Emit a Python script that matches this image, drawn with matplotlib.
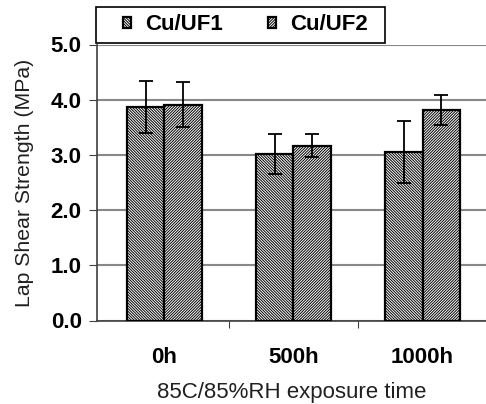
import matplotlib
matplotlib.use('Agg')
import matplotlib.pyplot as plt
from matplotlib.patches import Rectangle
import numpy as np

# data
categories = ['0h', '500h', '1000h']
series = ['Cu/UF1', 'Cu/UF2']
uf1_mean = [3.87, 3.02, 3.05]
uf1_err = [0.47, 0.36, 0.56]
uf2_mean = [3.91, 3.17, 3.81]
uf2_err = [0.41, 0.21, 0.27]

plt.rcParams['font.family'] = 'Liberation Sans'
plt.rcParams['hatch.linewidth'] = 0.7
plt.rcParams['hatch.color'] = 'black'

fig = plt.figure(figsize=(4.86, 4.04), dpi=100)
ax = fig.add_axes([97/486, 83.5/404, 389/486, 276/404])

x = np.arange(len(categories))
w = 0.29
kw = dict(color='white', edgecolor='black', linewidth=1.6, zorder=3)
ekw = dict(ecolor='black', elinewidth=1.3, capsize=5, capthick=1.3)
b1 = ax.bar(x - w/2, uf1_mean, w, hatch='\\'*12, label=series[0],
            yerr=uf1_err, error_kw=ekw, **kw)
b2 = ax.bar(x + w/2, uf2_mean, w, hatch='/'*12, label=series[1],
            yerr=uf2_err, error_kw=ekw, **kw)

ax.set_ylim(0, 5)
ax.set_xlim(-0.523, 2.492)
ax.set_yticks(np.arange(0, 5.01, 1.0))
ax.set_yticklabels(['%.1f' % v for v in np.arange(0, 5.01, 1.0)],
                   fontsize=16, fontweight='bold')
ax.yaxis.grid(True, color='#888888', linewidth=1.5, zorder=0)
ax.set_axisbelow(True)

# category labels between boundary ticks
ax.set_xticks([0.5, 1.5])
ax.set_xticklabels([])
ax.set_xticks(x, minor=True)
ax.set_xticklabels(categories, minor=True, fontsize=16, fontweight='bold')
ax.tick_params(axis='x', which='minor', length=0, pad=19)
ax.tick_params(axis='x', which='major', length=5, color='#404040', direction='out')
ax.tick_params(axis='y', length=6, color='#404040', direction='out', pad=5)

for s in ['top', 'right']:
    ax.spines[s].set_visible(False)
for s in ['left', 'bottom']:
    ax.spines[s].set_color('#404040')
    ax.spines[s].set_linewidth(1.2)

ax.set_ylabel('Lap Shear Strength (MPa)', fontsize=15.3, labelpad=12, color='#202020')
ax.set_xlabel('85C/85%RH exposure time', fontsize=16, labelpad=10, color='#202020')

# legend frame drawn separately, legend itself without frame
fig.patches.append(Rectangle((96/486, 361/404), 289/486, 36/404,
                             transform=fig.transFigure, facecolor='white',
                             edgecolor='black', linewidth=1.2, zorder=5))
leg = fig.legend(handles=[b1, b2], loc='center left', ncol=2,
                 bbox_to_anchor=(123/486, 379/404), frameon=False,
                 borderpad=0, borderaxespad=0, columnspacing=2.0,
                 handlelength=0.38, handleheight=0.38, handletextpad=0.63,
                 prop={'size': 16, 'weight': 'bold'})
leg.set_zorder(6)

fig.savefig('out.png', dpi=100)
